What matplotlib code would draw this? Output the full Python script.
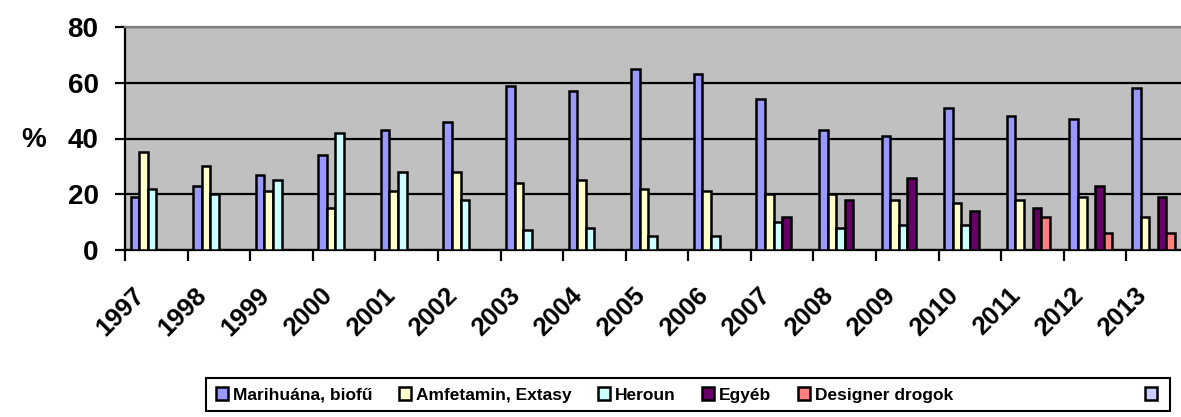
#Import modules
import numpy as np
import matplotlib.pyplot as plt
from matplotlib import transforms
from matplotlib.patches import Rectangle

#Data (nan = no bar)
years = ["1997", "1998", "1999", "2000", "2001", "2002", "2003", "2004", "2005",
         "2006", "2007", "2008", "2009", "2010", "2011", "2012", "2013"]
nan = np.nan
marihuana = [19, 23, 27, 34, 43, 46, 59, 57, 65, 63, 54, 43, 41, 51, 48, 47, 58]
amfetamin = [35, 30, 21, 15, 21, 28, 24, 25, 22, 21, 20, 20, 18, 17, 18, 19, 12]
heroun = [22, 20, 25, 42, 28, 18, 7, 8, 5, 5, 10, 8, 9, 9, nan, nan, nan]
egyeb = [nan, nan, nan, nan, nan, nan, nan, nan, nan, nan, 12, 18, 26, 14, 15, 23, 19]
designer = [nan] * 14 + [12, 6, 6]
blank = [nan] * 17

series = [marihuana, amfetamin, heroun, egyeb, designer, blank]
labels = ["Marihuána, biofű", "Amfetamin, Extasy", "Heroun", "Egyéb", "Designer drogok", ""]
colors = ["#9999FF", "#FFFFCC", "#CCFFFF", "#660066", "#FF8080", "#CCCCFF"]

plt.rcParams['font.family'] = ['Liberation Sans', 'DejaVu Sans']
plt.rcParams['font.weight'] = 'bold'

fig = plt.figure(figsize=(11.81, 4.17), dpi=100)
#Plot area runs past the right edge like in the original
ax = fig.add_axes([125 / 1181, 167 / 417, 1064 / 1181, 223 / 417])
ax.set_facecolor("#C0C0C0")

x = np.arange(len(years))
width = 0.1375
start = 0.088
bars = []
for i, vals in enumerate(series):
    b = ax.bar(x + start + i * width, vals, width, align='edge', color=colors[i],
               edgecolor='black', linewidth=1.8, label=labels[i], zorder=3)
    bars.append(b)

ax.set_xlim(0, 17)
ax.set_ylim(0, 80)
ax.set_yticks([0, 20, 40, 60, 80])
ax.yaxis.grid(True, color='black', linewidth=1.6, zorder=1)
ax.set_axisbelow(True)
ax.tick_params(axis='y', length=7, width=1.6, labelsize=20, pad=12)

#Category labels in the middle, tick marks at the borders
ax.set_xticks(x + 0.5)
ax.set_xticklabels(years, rotation=45, ha='right', va='top', rotation_mode='anchor',
                   fontsize=18.5, fontweight='bold')
ax.tick_params(axis='x', which='major', length=0, pad=24)
ax.set_xticks(np.arange(0, 18), minor=True)
ax.tick_params(axis='x', which='minor', length=8, width=1.6, direction='out')
offset = transforms.ScaledTranslation(-24 / 100, 0, fig.dpi_scale_trans)
for lbl in ax.get_xticklabels():
    lbl.set_transform(lbl.get_transform() + offset)

for side in ['left', 'bottom']:
    ax.spines[side].set_linewidth(1.6)
ax.spines['top'].set_color('#808080')
ax.spines['top'].set_linewidth(1.6)
ax.spines['right'].set_visible(False)

fig.text(34 / 1181, 1 - 140 / 417, "%", fontsize=20, fontweight='bold', ha='center', va='center')

#Legend: frame drawn by hand, last (unnamed) entry sits at the far right
fig.patches.append(Rectangle((206 / 1181, 1 - 411 / 417), 964 / 1181, 33 / 417,
                             transform=fig.transFigure, fill=False, edgecolor='black',
                             linewidth=1.5))
leg1 = fig.legend(bars[:5], labels[:5], loc='center left', bbox_to_anchor=(216 / 1181, 1 - 395 / 417),
                  ncol=5, frameon=False, fontsize=12.5, handlelength=0.7, handleheight=0.7,
                  handletextpad=0.3, columnspacing=1.5, borderpad=0, borderaxespad=0)
leg2 = fig.legend([bars[5]], [labels[5]], loc='center left', bbox_to_anchor=(1145 / 1181, 1 - 395 / 417),
                  frameon=False, fontsize=12.5, handlelength=0.7, handleheight=0.7,
                  handletextpad=0, borderpad=0, borderaxespad=0)

plt.savefig("out.png", dpi=100)
